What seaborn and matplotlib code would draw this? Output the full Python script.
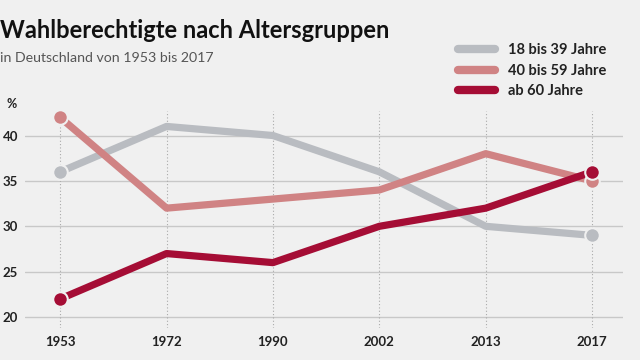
import pandas as pd
import matplotlib.pyplot as plt
import seaborn as sns
from matplotlib.lines import Line2D

# Wahlberechtigte nach Altersgruppen, Anteil in %
years = ['1953', '1972', '1990', '2002', '2013', '2017']
group_labels = ['18 bis 39 Jahre', '40 bis 59 Jahre', 'ab 60 Jahre']
share_18_39 = [36, 41, 40, 36, 30, 29]
share_40_59 = [42, 32, 33, 34, 38, 35]
share_60 = [22, 27, 26, 30, 32, 36]
y_ticks = [20, 25, 30, 35, 40]

colors = ['#b9bcc1', '#d08384', '#a50d35']
bg = '#f0f0f0'

df = pd.DataFrame({
    'Jahr': years * 3,
    'Anteil': share_18_39 + share_40_59 + share_60,
    'Gruppe': [g for g in group_labels for _ in years],
})

sns.set_style('white')
plt.rcParams['font.family'] = ['Lato', 'DejaVu Sans']

fig = plt.figure(figsize=(6.4, 3.6), dpi=100, facecolor=bg)
ax = fig.add_axes([25 / 640, 1 - 328 / 360, 598 / 640, 217 / 360])
ax.set_facecolor(bg)

sns.lineplot(data=df, x='Jahr', y='Anteil', hue='Gruppe', hue_order=group_labels,
             palette=colors, linewidth=5.2, legend=False, ax=ax, zorder=3,
             solid_capstyle='round', solid_joinstyle='round')

# end point markers
for g, c in zip(group_labels, colors):
    sub = df[df['Gruppe'] == g]
    ends = sub.iloc[[0, -1]]
    ax.scatter(ends['Jahr'], ends['Anteil'], s=110, color=c, edgecolor=bg,
               linewidth=1.5, zorder=4)

ax.set_xlim(-0.33, 5.29)
ax.set_ylim(18.8, 42.7)
ax.set_yticks(y_ticks)
ax.set_xlabel('')
ax.set_ylabel('')
for s in ax.spines.values():
    s.set_visible(False)

for yv in y_ticks:
    ax.axhline(yv, color='#c8c8c8', linewidth=1, zorder=1)
for i in range(len(years)):
    ax.axvline(i, color='#aaaaaa', linewidth=0.8, linestyle=(0, (1, 2)), zorder=1)

ax.tick_params(axis='both', length=0, labelsize=9.5, labelcolor='#222222')
ax.tick_params(axis='x', pad=6)
ax.tick_params(axis='y', pad=5)
for lab in ax.get_xticklabels() + ax.get_yticklabels():
    lab.set_fontweight('bold')

fig.text(12 / 640, 1 - 104 / 360, '%', fontsize=9, fontweight='bold',
         color='#222222', ha='center', va='center')

fig.text(0, 1 - 31 / 360, 'Wahlberechtigte nach Altersgruppen', fontsize=17,
         fontweight='bold', color='#111111', ha='left', va='center')
fig.text(0, 1 - 58 / 360, 'in Deutschland von 1953 bis 2017', fontsize=10.2,
         color='#555555', ha='left', va='center')

handles = [Line2D([0], [0], color=c, linewidth=6, solid_capstyle='round') for c in colors]
leg = fig.legend(handles, group_labels, loc='upper left',
                 bbox_to_anchor=(445 / 640, 1 - 30 / 360), frameon=False,
                 handlelength=2.5, handletextpad=0.9, labelspacing=0.45,
                 prop={'size': 10.5, 'weight': 'bold'})
for t in leg.get_texts():
    t.set_color('#222222')

fig.savefig('out.png', dpi=100, facecolor=bg)
